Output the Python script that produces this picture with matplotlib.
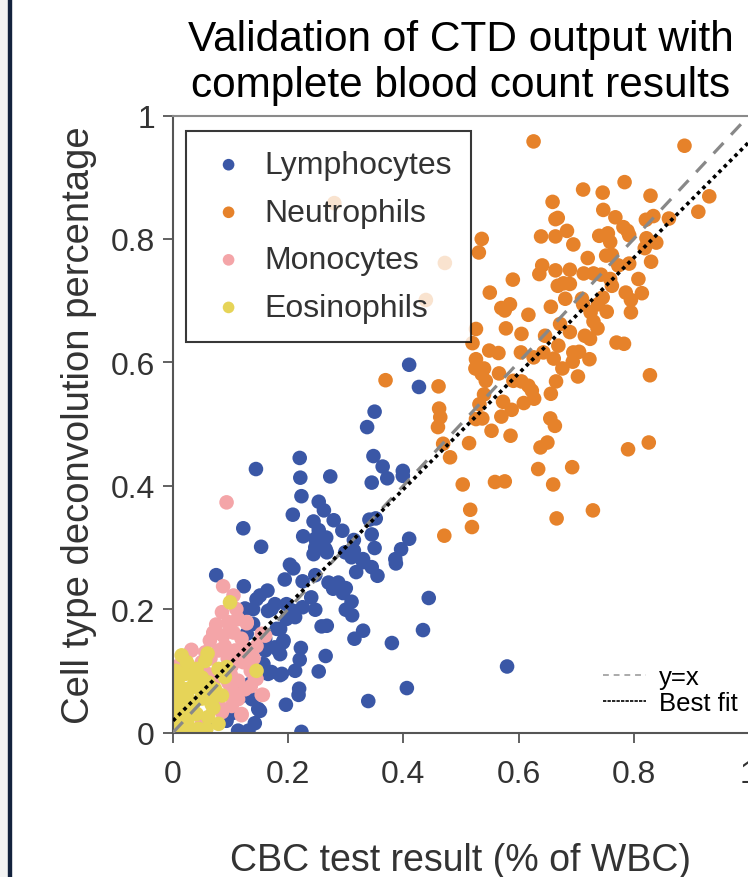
import matplotlib
matplotlib.use("Agg")
import matplotlib.pyplot as plt
from matplotlib.lines import Line2D
from matplotlib.patches import Rectangle

plt.rcParams['font.family'] = ['Liberation Sans', 'DejaVu Sans']

# CBC fraction (x) vs deconvolution fraction (y)
lym_x = [0.410, 0.427, 0.364, 0.372, 0.399, 0.399, 0.410, 0.350, 0.337, 0.348, 0.345, 0.220, 0.144,
         0.221, 0.273, 0.223, 0.253, 0.262, 0.208, 0.244, 0.279, 0.122, 0.253, 0.294, 0.226, 0.266,
         0.247, 0.153, 0.341, 0.352, 0.345, 0.314, 0.396, 0.350, 0.247, 0.265, 0.244, 0.299, 0.314,
         0.330, 0.386, 0.261, 0.267, 0.310, 0.387, 0.330, 0.345, 0.355, 0.318, 0.203, 0.209, 0.247,
         0.194, 0.225, 0.270, 0.287, 0.278, 0.300, 0.295, 0.240, 0.310, 0.444, 0.197, 0.209, 0.225,
         0.247, 0.300, 0.311, 0.197, 0.212, 0.186, 0.258, 0.267, 0.330, 0.315, 0.434, 0.380, 0.191,
         0.222, 0.186, 0.265, 0.220, 0.580, 0.189, 0.212, 0.253, 0.406, 0.219, 0.218, 0.339, 0.196,
         0.223, 0.075, 0.123, 0.151, 0.164, 0.125, 0.139, 0.165, 0.177, 0.139, 0.128, 0.180, 0.160,
         0.183, 0.157, 0.134, 0.165, 0.186, 0.134, 0.122, 0.137, 0.151, 0.102, 0.142, 0.113, 0.131,
         0.058, 0.145, 0.171, 0.160, 0.177, 0.192, 0.171, 0.125, 0.148, 0.093]
lym_y = [0.596, 0.560, 0.431, 0.412, 0.424, 0.416, 0.314, 0.520, 0.495, 0.448, 0.405, 0.445, 0.427,
         0.413, 0.415, 0.383, 0.374, 0.360, 0.353, 0.342, 0.344, 0.331, 0.328, 0.327, 0.318, 0.316,
         0.314, 0.301, 0.345, 0.347, 0.321, 0.312, 0.297, 0.299, 0.300, 0.297, 0.289, 0.292, 0.295,
         0.281, 0.281, 0.303, 0.292, 0.284, 0.274, 0.276, 0.268, 0.254, 0.260, 0.272, 0.266, 0.255,
         0.248, 0.245, 0.243, 0.243, 0.233, 0.234, 0.226, 0.219, 0.212, 0.218, 0.208, 0.197, 0.203,
         0.199, 0.199, 0.190, 0.184, 0.187, 0.168, 0.172, 0.173, 0.165, 0.152, 0.166, 0.145, 0.146,
         0.137, 0.127, 0.124, 0.118, 0.107, 0.095, 0.100, 0.099, 0.072, 0.071, 0.061, 0.051, 0.045,
         0.001, 0.255, 0.237, 0.222, 0.230, 0.201, 0.200, 0.197, 0.208, 0.176, 0.160, 0.168, 0.133,
         0.133, 0.111, 0.111, 0.095, 0.093, 0.079, 0.060, 0.054, 0.035, 0.031, 0.015, 0.003, 0.003,
         0.014, 0.216, 0.200, 0.152, 0.138, 0.149, 0.098, 0.071, 0.038, 0.019]

neu_x = [0.626, 0.888, 0.784, 0.712, 0.746, 0.829, 0.931, 0.659, 0.912, 0.747, 0.768, 0.668, 0.664,
         0.834, 0.821, 0.861, 0.536, 0.531, 0.639, 0.664, 0.684, 0.740, 0.755, 0.759, 0.782, 0.789,
         0.792, 0.695, 0.822, 0.839, 0.819, 0.720, 0.752, 0.762, 0.830, 0.773, 0.792, 0.641, 0.636,
         0.664, 0.689, 0.713, 0.730, 0.743, 0.590, 0.808, 0.668, 0.678, 0.689, 0.759, 0.762, 0.550,
         0.786, 0.814, 0.681, 0.710, 0.746, 0.795, 0.570, 0.585, 0.576, 0.656, 0.712, 0.738, 0.617,
         0.725, 0.753, 0.795, 0.672, 0.730, 0.526, 0.578, 0.472, 0.439, 0.280,
         0.520, 0.605, 0.689, 0.715, 0.737, 0.724, 0.646, 0.770, 0.783, 0.549, 0.565, 0.604, 0.626,
         0.643, 0.669, 0.661, 0.695, 0.705, 0.694, 0.723, 0.676, 0.526, 0.525, 0.540, 0.536, 0.566,
         0.543, 0.703, 0.828, 0.369, 0.461, 0.591, 0.605, 0.617, 0.665, 0.623, 0.627, 0.656, 0.540,
         0.532, 0.573, 0.609, 0.462, 0.464, 0.460, 0.526, 0.537, 0.588, 0.570, 0.655, 0.663, 0.553,
         0.586, 0.514, 0.469, 0.481, 0.638, 0.650, 0.790, 0.826, 0.634, 0.693, 0.503, 0.559, 0.576,
         0.660, 0.516, 0.519, 0.666, 0.729, 0.471]
neu_y = [0.958, 0.951, 0.892, 0.880, 0.875, 0.870, 0.869, 0.860, 0.844, 0.847, 0.835, 0.834, 0.832,
         0.837, 0.831, 0.833, 0.800, 0.778, 0.804, 0.804, 0.813, 0.805, 0.809, 0.795, 0.819, 0.813,
         0.806, 0.791, 0.801, 0.794, 0.785, 0.769, 0.773, 0.774, 0.763, 0.757, 0.760, 0.757, 0.743,
         0.749, 0.750, 0.744, 0.744, 0.742, 0.734, 0.735, 0.724, 0.728, 0.727, 0.735, 0.724, 0.713,
         0.713, 0.712, 0.703, 0.703, 0.705, 0.701, 0.688, 0.694, 0.684, 0.690, 0.694, 0.694, 0.677,
         0.681, 0.682, 0.681, 0.662, 0.666, 0.654, 0.655, 0.761, 0.701, 0.858,
         0.631, 0.646, 0.649, 0.643, 0.655, 0.638, 0.643, 0.632, 0.630, 0.619, 0.615, 0.616, 0.608,
         0.616, 0.627, 0.606, 0.616, 0.617, 0.601, 0.605, 0.590, 0.605, 0.590, 0.590, 0.581, 0.582,
         0.570, 0.577, 0.579, 0.571, 0.561, 0.570, 0.569, 0.562, 0.569, 0.554, 0.541, 0.549, 0.548,
         0.532, 0.536, 0.534, 0.525, 0.511, 0.495, 0.508, 0.509, 0.523, 0.512, 0.509, 0.497, 0.489,
         0.481, 0.469, 0.468, 0.446, 0.462, 0.470, 0.459, 0.470, 0.427, 0.430, 0.402, 0.406, 0.407,
         0.402, 0.361, 0.333, 0.347, 0.360, 0.319]

mon_x = [0.093, 0.087, 0.105, 0.128, 0.112, 0.099, 0.070, 0.032, 0.009, 0.024, 0.160, 0.131, 0.142,
         0.156, 0.119, 0.102, 0.113, 0.128, 0.096, 0.070, 0.064, 0.087, 0.105, 0.119, 0.032, 0.056,
         0.079, 0.108, 0.125, 0.154, 0.012, 0.027, 0.050, 0.102, 0.122, 0.145, 0.070, 0.096, 0.113,
         0.096, 0.113, 0.154, 0.079, 0.119, 0.085, 0.050, 0.090, 0.115, 0.135, 0.080, 0.060, 0.100,
         0.125, 0.140, 0.065, 0.095, 0.145, 0.085, 0.075, 0.110, 0.135, 0.105]
mon_y = [0.373, 0.237, 0.222, 0.177, 0.184, 0.171, 0.160, 0.134, 0.108, 0.108, 0.157, 0.122, 0.087,
         0.061, 0.028, 0.043, 0.184, 0.179, 0.179, 0.162, 0.149, 0.157, 0.162, 0.152, 0.133, 0.130,
         0.133, 0.133, 0.138, 0.160, 0.108, 0.108, 0.114, 0.108, 0.114, 0.087, 0.081, 0.081, 0.084,
         0.062, 0.054, 0.061, 0.046, 0.030, 0.033, 0.014, 0.140, 0.125, 0.100, 0.100, 0.095, 0.095,
         0.070, 0.120, 0.120, 0.120, 0.140, 0.195, 0.175, 0.200, 0.075, 0.065]

eos_x = [0.099, 0.056, 0.041, 0.021, 0.009, 0.079, 0.093, 0.145, 0.061, 0.032, 0.009, 0.064, 0.035,
         0.067, 0.009, 0.041, 0.061, 0.079, 0.044, 0.058, 0.015, 0.003, 0.001, 0.021, 0.047, 0.027,
         0.018, 0.050, 0.073, 0.024, 0.005, 0.012, 0.030, 0.050, 0.038, 0.015, 0.060, 0.070, 0.025,
         0.005, 0.090, 0.085]
eos_y = [0.211, 0.116, 0.103, 0.095, 0.087, 0.103, 0.106, 0.100, 0.081, 0.073, 0.065, 0.060, 0.046,
         0.046, 0.038, 0.030, 0.025, 0.014, 0.006, 0.006, 0.011, 0.019, 0.076, 0.070, 0.070, 0.054,
         0.033, 0.089, 0.070, 0.114, 0.050, 0.000, 0.005, 0.055, 0.085, 0.125, 0.128, 0.040, 0.020,
         0.100, 0.090, 0.060]

groups = [("Lymphocytes", lym_x, lym_y, "#3a57a6"),
          ("Neutrophils", neu_x, neu_y, "#e6822a"),
          ("Monocytes", mon_x, mon_y, "#f4a5a8"),
          ("Eosinophils", eos_x, eos_y, "#e6d458")]

fit_slope = 0.938
fit_icpt = 0.019

fig = plt.figure(figsize=(7.48, 8.78), dpi=100)
# left edge of the screenshot: grey strip + dark line
fig.patches.append(Rectangle((0, 0), 8 / 748, 1, transform=fig.transFigure, color="#f3f3f3", zorder=0))
fig.patches.append(Rectangle((8 / 748, 0), 3 / 748, 1, transform=fig.transFigure, color="#13223d", zorder=0))

ax = fig.add_axes([173 / 748, (878 - 733.5) / 878, 576 / 748, 617 / 878])

for name, xs, ys, col in groups:
    ax.scatter(xs, ys, s=110, c=col, edgecolors="none", label=name, zorder=2)

ax.plot([0, 1], [0, 1], color="#888888", lw=2.3, ls=(0, (4.5, 3.5)), zorder=3)
ax.plot([0, 1], [fit_icpt, fit_icpt + fit_slope], color="black", lw=2.6, ls=(0, (1, 1.1)), zorder=4)

ax.set_xlim(0, 1)
ax.set_ylim(0, 1)
ax.set_xticks([0, 0.2, 0.4, 0.6, 0.8, 1.0])
ax.set_xticklabels(["0", "0.2", "0.4", "0.6", "0.8", "1"])
ax.set_yticks([0, 0.2, 0.4, 0.6, 0.8, 1.0])
ax.set_yticklabels(["0", "0.2", "0.4", "0.6", "0.8", "1"])

for side in ["left", "bottom"]:
    ax.spines[side].set_color("#555555")
    ax.spines[side].set_linewidth(1.5)
ax.spines["top"].set_color("#8a8a8a")
ax.spines["top"].set_linewidth(1.5)
ax.spines["right"].set_visible(False)
ax.tick_params(direction="out", length=7, width=1.3, color="#555555", labelsize=23, labelcolor="#333333")
ax.tick_params(axis="x", pad=12)
ax.tick_params(axis="y", pad=6)

ax.set_xlabel("CBC test result (% of WBC)", fontsize=27, color="#333333", labelpad=38)
ax.set_ylabel("Cell type deconvolution percentage", fontsize=27.5, color="#333333", labelpad=10)
ax.set_title("Validation of CTD output with\ncomplete blood count results", fontsize=30.5, pad=14)

leg = ax.legend(loc="upper left", bbox_to_anchor=(0.023, 0.975), borderaxespad=0, fontsize=23,
                markerscale=0.8, handlelength=1.45, handletextpad=0.4, borderpad=0.6,
                labelspacing=0.55, frameon=True, fancybox=False, framealpha=0.78, edgecolor="black")
leg.get_frame().set_linewidth(1.5)
for t in leg.get_texts():
    t.set_color("#333333")
ax.add_artist(leg)

h_line = [Line2D([0], [0], color="#aaaaaa", lw=1.4, ls=(0, (3, 2.5))),
          Line2D([0], [0], color="black", lw=1.2, ls=(0, (2, 0.7)))]
ax.legend(h_line, ["y=x", "Best fit"], loc="lower right", bbox_to_anchor=(1.012, 0.0), fontsize=18.5,
          frameon=False, handlelength=1.7, handletextpad=0.5, labelspacing=0.05, borderaxespad=0.3)

fig.savefig("out.png", dpi=100)
